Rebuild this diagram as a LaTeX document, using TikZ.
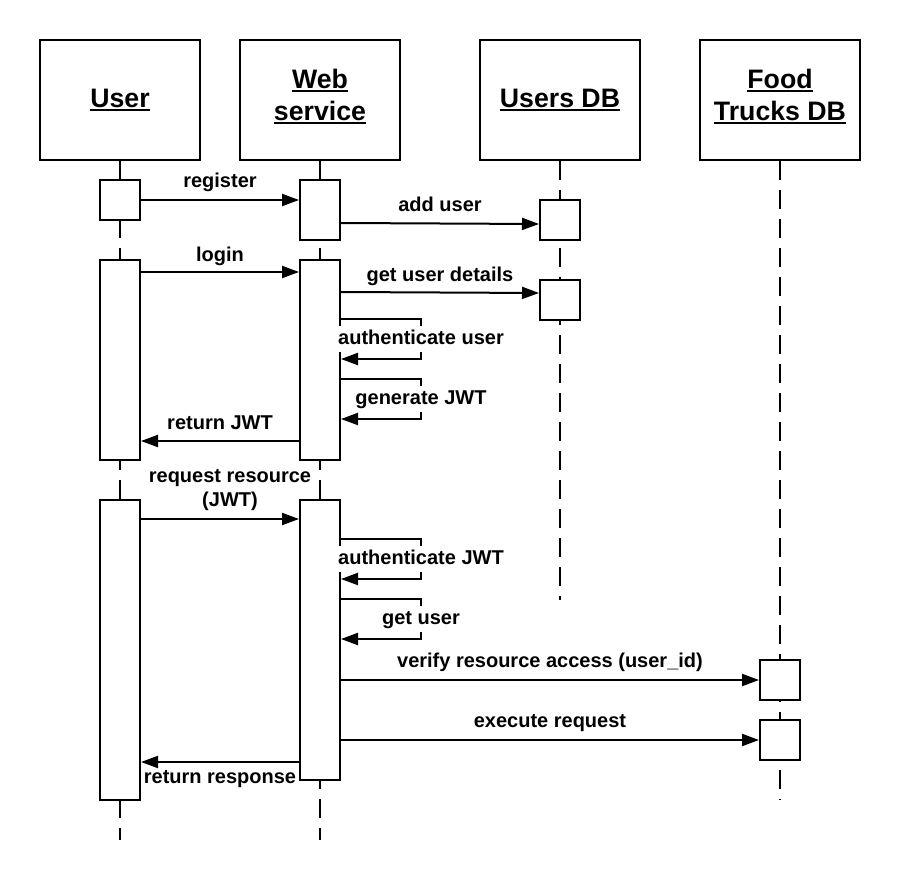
\documentclass[tikz,border=0pt]{standalone}
\usepackage{fontspec}
\setmainfont{Liberation Sans}
\usetikzlibrary{arrows.meta,positioning}
\newcommand{\headline}[1]{\setbox0\hbox{#1}\rlap{\rule[-4pt]{\wd0}{2.2pt}}\box0}

\begin{document}
\begin{tikzpicture}
  [
    x=1pt, y=-1pt,
    line width=2pt,
    head/.style={rectangle,draw,fill=white,minimum width=160pt,minimum height=120pt,align=center,font=\fontsize{26.7}{30}\selectfont\bfseries},
    act/.style={rectangle,draw,fill=white,minimum width=40pt,inner sep=0pt},
    life/.style={dash pattern=on 19pt off 10pt},
    msg/.style={-{Triangle[length=17pt,width=12pt]}},
    lbl/.style={font=\fontsize{20}{24}\selectfont\bfseries,inner sep=0pt,text height=14pt,text depth=4pt},
    lbltwo/.style={font=\fontsize{20}{24}\selectfont\bfseries,inner sep=0pt,align=center},
    loop/.style={lbl,fill=white,inner sep=4pt},
  ]
  \useasboundingbox (0,0) rectangle (900,880);

  % participants
  \node at (120,100) [head] (user) {\headline{User}};
  \node at (320,100) [head] (web) {\headline{Web}\\[2pt]\headline{service}\\[-19pt]\mbox{}};
  \node at (560,100) [head] (usersdb) {\headline{Users DB}};
  \node at (780,100) [head] (trucksdb) {\headline{Food}\\[2pt]\headline{Trucks DB}\\[-19pt]\mbox{}};

  % lifelines
  \coordinate (userend) at (120,840);
  \coordinate (webend) at (320,840);
  \coordinate (usersdbend) at (560,600);
  \coordinate (trucksdbend) at (780,800);
  \draw[life] (user) -- (userend);
  \draw[life] (web) -- (webend);
  \draw[life] (usersdb) -- (usersdbend);
  \draw[life] (trucksdb) -- (trucksdbend);

  % activations
  \node at (120,200) [act,minimum height=40pt] (u1) {};
  \node at (320,210) [act,minimum height=60pt] (w1) {};
  \node at (560,220) [act,minimum height=40pt] (d1) {};
  \node at (120,360) [act,minimum height=200pt] (u2) {};
  \node at (320,360) [act,minimum height=200pt] (w2) {};
  \node at (560,300) [act,minimum height=40pt] (d2) {};
  \node at (120,650) [act,minimum height=300pt] (u3) {};
  \node at (320,640) [act,minimum height=280pt] (w3) {};
  \node at (780,680) [act,minimum height=40pt] (f1) {};
  \node at (780,740) [act,minimum height=40pt] (f2) {};

  % register
  \draw[msg] (u1.east) -- (w1.west |- u1.east) node[midway,lbl,above=8pt] {register};
  \draw[msg] ([yshift=-44pt]w1.north east) -- ([yshift=-4pt]d1.west) node[midway,lbl,above=7pt] {add user};

  % login
  \draw[msg] ([yshift=-13pt]u2.north east) -- ([yshift=-13pt]w2.north west) node[midway,lbl,above=6pt] {login};
  \draw[msg] ([yshift=-33pt]w2.north east) -- ([yshift=7pt]d2.west) node[midway,lbl,above=6pt] {get user details};
  \draw[msg] ([yshift=-60pt]w2.north east) -- ++(80,0) -- ++(0,40) node[midway,loop] {authenticate user} -- ([yshift=-100pt]w2.north east);
  \draw[msg] ([yshift=-120pt]w2.north east) -- ++(80,0) -- ++(0,40) node[midway,loop] {generate JWT} -- ([yshift=-160pt]w2.north east);
  \draw[msg] ([yshift=20pt]w2.south west) -- ([yshift=20pt]u2.south east) node[midway,lbl,above=7pt] {return JWT};

  % request
  \draw[msg] ([yshift=-20pt]u3.north east) -- ([yshift=-20pt]w3.north west) node[midway,lbltwo,above=7pt,xshift=10pt] {request resource\\(JWT)};
  \draw[msg] ([yshift=-40pt]w3.north east) -- ++(80,0) -- ++(0,40) node[midway,loop] {authenticate JWT} -- ([yshift=-80pt]w3.north east);
  \draw[msg] ([yshift=-100pt]w3.north east) -- ++(80,0) -- ++(0,40) node[midway,loop] {get user} -- ([yshift=-140pt]w3.north east);
  \draw[msg] (w3.east |- f1.west) -- (f1.west) node[midway,lbl,above=8pt] {verify resource access (user\_id)};
  \draw[msg] (w3.east |- f2.west) -- (f2.west) node[midway,lbl,above=8pt] {execute request};
  \draw[msg] ([yshift=19pt]w3.south west) -- ([yshift=39pt]u3.south east) node[midway,lbl,below=6pt] {return response};
\end{tikzpicture}
\end{document}
